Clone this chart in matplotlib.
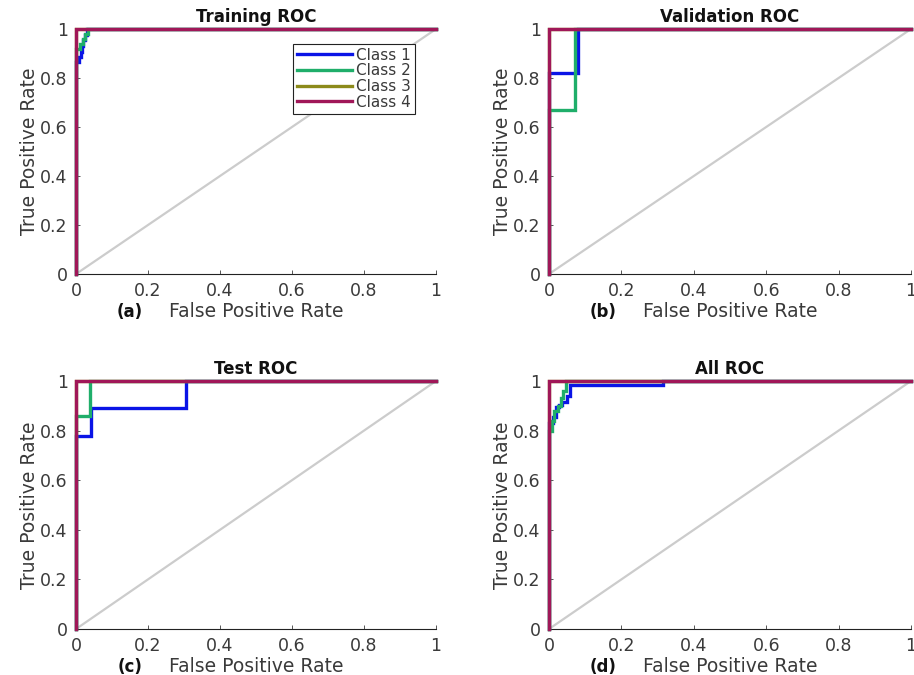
import matplotlib
matplotlib.use("Agg")
import matplotlib.pyplot as plt

plt.rcParams["font.family"] = ["DejaVu Sans"]

# colours (MATLAB plotroc style)
CLASS_COLORS = ["#0a14e6", "#1fae6a", "#8c8a1a", "#a01758"]
CLASS_NAMES = ["Class 1", "Class 2", "Class 3", "Class 4"]
DIAG_COLOR = "#cccccc"
TXT = "#3a3a3a"

# ---------------------------------------------------------------------------
# ROC curves (fpr, tpr) per panel
# ---------------------------------------------------------------------------
train_c1_fpr = [0, 0, 0.008, 0.008, 0.013, 0.013, 0.017, 0.017, 0.019, 0.019, 0.025, 0.025, 0.03, 0.03, 1]
train_c1_tpr = [0, 0.865, 0.865, 0.885, 0.885, 0.906, 0.906, 0.93, 0.93, 0.955, 0.955, 0.976, 0.976, 1, 1]
train_c2_fpr = [0, 0, 0.012, 0.012, 0.02, 0.02, 0.025, 0.025, 0.032, 0.032, 1]
train_c2_tpr = [0, 0.92, 0.92, 0.94, 0.94, 0.96, 0.96, 0.98, 0.98, 1, 1]
train_c3_fpr = [0, 0, 1]
train_c3_tpr = [0, 1, 1]
train_c4_fpr = [0, 0, 1]
train_c4_tpr = [0, 1, 1]

val_c1_fpr = [0, 0, 0.08, 0.08, 1]
val_c1_tpr = [0, 0.82, 0.82, 1, 1]
val_c2_fpr = [0, 0, 0.072, 0.072, 1]
val_c2_tpr = [0, 0.67, 0.67, 1, 1]
val_c3_fpr = [0, 0, 1]
val_c3_tpr = [0, 1, 1]
val_c4_fpr = [0, 0, 1]
val_c4_tpr = [0, 1, 1]

test_c1_fpr = [0, 0, 0.042, 0.042, 0.305, 0.305, 1]
test_c1_tpr = [0, 0.78, 0.78, 0.89, 0.89, 1, 1]
test_c2_fpr = [0, 0, 0.038, 0.038, 1]
test_c2_tpr = [0, 0.86, 0.86, 1, 1]
test_c3_fpr = [0, 0, 1]
test_c3_tpr = [0, 1, 1]
test_c4_fpr = [0, 0, 1]
test_c4_tpr = [0, 1, 1]

all_c1_fpr = [0, 0, 0.011, 0.011, 0.019, 0.019, 0.028, 0.028, 0.036, 0.036,
              0.05, 0.05, 0.058, 0.058, 0.315, 0.315, 1]
all_c1_tpr = [0, 0.83, 0.83, 0.855, 0.855, 0.895, 0.895, 0.905, 0.905, 0.915,
              0.915, 0.94, 0.94, 0.984, 0.984, 1, 1]
all_c2_fpr = [0, 0, 0.008, 0.008, 0.015, 0.015, 0.025, 0.025, 0.032, 0.032,
              0.04, 0.04, 0.046, 0.046, 1]
all_c2_tpr = [0, 0.80, 0.80, 0.84, 0.84, 0.88, 0.88, 0.90, 0.90, 0.93,
              0.93, 0.96, 0.96, 1, 1]
all_c3_fpr = [0, 0, 1]
all_c3_tpr = [0, 1, 1]
all_c4_fpr = [0, 0, 1]
all_c4_tpr = [0, 1, 1]

PANELS = [
    ("Training ROC", "(a)",
     [(train_c1_fpr, train_c1_tpr), (train_c2_fpr, train_c2_tpr),
      (train_c3_fpr, train_c3_tpr), (train_c4_fpr, train_c4_tpr)]),
    ("Validation ROC", "(b)",
     [(val_c1_fpr, val_c1_tpr), (val_c2_fpr, val_c2_tpr),
      (val_c3_fpr, val_c3_tpr), (val_c4_fpr, val_c4_tpr)]),
    ("Test ROC", "(c)",
     [(test_c1_fpr, test_c1_tpr), (test_c2_fpr, test_c2_tpr),
      (test_c3_fpr, test_c3_tpr), (test_c4_fpr, test_c4_tpr)]),
    ("All ROC", "(d)",
     [(all_c1_fpr, all_c1_tpr), (all_c2_fpr, all_c2_tpr),
      (all_c3_fpr, all_c3_tpr), (all_c4_fpr, all_c4_tpr)]),
]

TICKS = [0, 0.2, 0.4, 0.6, 0.8, 1]
TICK_LABELS = ["0", "0.2", "0.4", "0.6", "0.8", "1"]

# axes rectangles in figure fraction (914 x 675 px)
W, H = 914, 675
RECTS = [
    (76 / W, 1 - 274 / H, 360 / W, 245 / H),
    (549 / W, 1 - 274 / H, 362 / W, 245 / H),
    (76 / W, 1 - 629 / H, 360 / W, 248 / H),
    (549 / W, 1 - 629 / H, 362 / W, 248 / H),
]

fig = plt.figure(figsize=(W / 100, H / 100), dpi=100)

for idx, (title, tag, curves) in enumerate(PANELS):
    ax = fig.add_axes(RECTS[idx])
    ax.plot([0, 1], [0, 1], color=DIAG_COLOR, lw=1.6, zorder=1)
    for k, (fpr, tpr) in enumerate(curves):
        ax.plot(fpr, tpr, color=CLASS_COLORS[k], lw=2.4, label=CLASS_NAMES[k],
                zorder=3 + k, clip_on=False, solid_joinstyle="miter")
    ax.set_xlim(0, 1)
    ax.set_ylim(0, 1)
    ax.set_xticks(TICKS)
    ax.set_xticklabels(TICK_LABELS)
    ax.set_yticks(TICKS)
    ax.set_yticklabels(TICK_LABELS)
    for s in ("top", "right"):
        ax.spines[s].set_visible(False)
    for s in ("left", "bottom"):
        ax.spines[s].set_color("#222222")
        ax.spines[s].set_linewidth(0.8)
    ax.tick_params(direction="in", length=3, width=0.6, colors=TXT,
                   labelsize=12.5, pad=6)
    ax.set_title(title, fontsize=12, fontweight="bold", color="#111111", pad=5)
    ax.set_xlabel("False Positive Rate", fontsize=13.5, color=TXT, labelpad=1)
    ax.set_ylabel("True Positive Rate", fontsize=13.5, color=TXT, labelpad=1)
    ax.text(0.15, -0.155, tag, transform=ax.transAxes, fontsize=12,
            fontweight="bold", color="#111111", ha="center", va="center")
    if idx == 0:
        leg = ax.legend(loc="upper right", bbox_to_anchor=(0.942, 0.94),
                        borderaxespad=0,
                        fontsize=11, frameon=True, fancybox=False,
                        edgecolor="#222222", framealpha=1,
                        handlelength=3.6, handletextpad=0.3,
                        labelspacing=0.05, borderpad=0.25)
        leg.get_frame().set_linewidth(0.8)
        for t in leg.get_texts():
            t.set_color(TXT)

fig.savefig("out.png", dpi=100)
